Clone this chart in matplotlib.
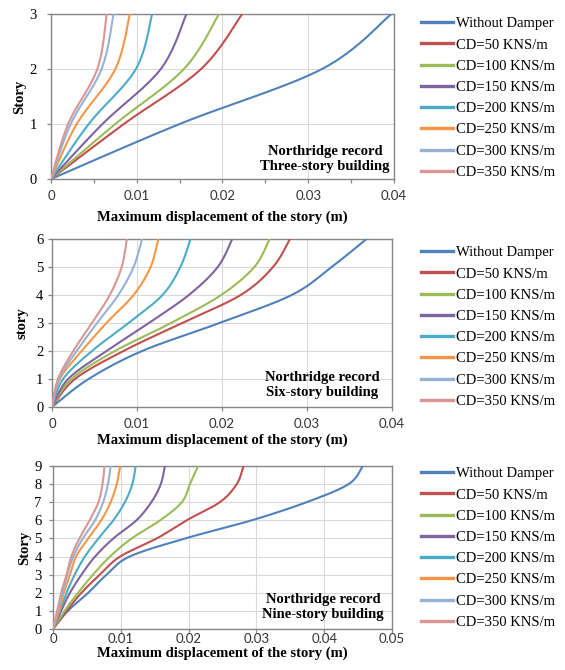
"""Story displacement profiles for three buildings (Northridge record)."""

import matplotlib

matplotlib.use("Agg")
import matplotlib.pyplot as plt  # noqa: E402
import numpy as np  # noqa: E402
from matplotlib.ticker import MultipleLocator  # noqa: E402

SERIF = ["Liberation Serif", "DejaVu Serif"]
SANS = ["Lato", "DejaVu Sans"]

labels = [
    "Without Damper",
    "CD=50 KNS/m",
    "CD=100 KNS/m",
    "CD=150 KNS/m",
    "CD=200 KNS/m",
    "CD=250 KNS/m",
    "CD=300 KNS/m",
    "CD=350 KNS/m",
]
colors = ["#4F81BD", "#C0504D", "#9BBB59", "#8064A2",
          "#4BACC6", "#F79646", "#95B3D7", "#D99694"]

# maximum displacement (m) at stories 0..n, one row per damper case
three_story = [
    [0, 0.0150, 0.0316, 0.0397],
    [0, 0.0085, 0.0175, 0.0223],
    [0, 0.0075, 0.0155, 0.0196],
    [0, 0.0060, 0.0128, 0.0158],
    [0, 0.0044, 0.0099, 0.0118],
    [0, 0.0030, 0.0075, 0.0092],
    [0, 0.0023, 0.0059, 0.0073],
    [0, 0.0020, 0.0054, 0.0065],
]
six_story = [
    [0, 0.0043, 0.0106, 0.0197, 0.0282, 0.0329, 0.0370],
    [0, 0.0027, 0.0084, 0.0153, 0.0222, 0.0260, 0.0280],
    [0, 0.0023, 0.0074, 0.0140, 0.0199, 0.0238, 0.0256],
    [0, 0.0019, 0.0064, 0.0114, 0.0161, 0.0195, 0.0212],
    [0, 0.0013, 0.0047, 0.0090, 0.0130, 0.0151, 0.0163],
    [0, 0.0009, 0.0035, 0.0064, 0.0096, 0.0116, 0.0125],
    [0, 0.0008, 0.0029, 0.0053, 0.0078, 0.0096, 0.0106],
    [0, 0.0007, 0.0025, 0.0047, 0.0068, 0.0082, 0.0088],
]
nine_story = [
    [0, 0.0022, 0.0052, 0.0079, 0.0113, 0.0195, 0.0293, 0.0374, 0.0436, 0.0457],
    [0, 0.0020, 0.0042, 0.0069, 0.0099, 0.0153, 0.0197, 0.0246, 0.0271, 0.0281],
    [0, 0.0017, 0.0037, 0.0059, 0.0084, 0.0116, 0.0158, 0.0190, 0.0202, 0.0214],
    [0, 0.0012, 0.0025, 0.0042, 0.0062, 0.0089, 0.0123, 0.0145, 0.0159, 0.0165],
    [0, 0.0010, 0.0020, 0.0032, 0.0047, 0.0067, 0.0089, 0.0106, 0.0117, 0.0122],
    [0, 0.0009, 0.0016, 0.0025, 0.0034, 0.0052, 0.0071, 0.0085, 0.0094, 0.0099],
    [0, 0.0007, 0.0014, 0.0021, 0.0030, 0.0044, 0.0062, 0.0074, 0.0081, 0.0085],
    [0, 0.0006, 0.0012, 0.0020, 0.0027, 0.0039, 0.0054, 0.0067, 0.0073, 0.0076],
]


def smooth(xs, ys, steps=24):
    """Excel-style smoothed line (Catmull-Rom through the data points)."""
    p = np.column_stack([xs, ys]).astype(float)
    p = np.vstack([p[0], p, p[-1]])
    t = np.linspace(0, 1, steps, endpoint=False)[:, None]
    out = []
    for i in range(1, len(p) - 2):
        p0, p1, p2, p3 = p[i - 1], p[i], p[i + 1], p[i + 2]
        seg = 0.5 * ((2 * p1) + (-p0 + p2) * t
                     + (2 * p0 - 5 * p1 + 4 * p2 - p3) * t ** 2
                     + (-p0 + 3 * p1 - 3 * p2 + p3) * t ** 3)
        out.append(seg)
    out.append(p[-2][None, :])
    out = np.vstack(out)
    return out[:, 0], out[:, 1]


W, H = 565, 670
fig = plt.figure(figsize=(W / 100, H / 100), dpi=100)

panels = [
    dict(data=three_story, rect=(51, 14, 394, 179), xmax=0.04, minor=0.005,
         ylabel="Story", text="Northridge record\nThree-story building",
         text_xy=(325, 159), leg_y=98, ylab_x=20, xlab_y=217,
         xpad=4.5, ypad=7),
    dict(data=six_story, rect=(52, 239, 392, 407), xmax=0.04, minor=None,
         ylabel="story", text="Northridge record\nSix-story building",
         text_xy=(322, 385), leg_y=327, ylab_x=22, xlab_y=440,
         xpad=4.5, ypad=3),
    dict(data=nine_story, rect=(53, 466, 392, 629), xmax=0.05, minor=None,
         ylabel="Story", text="Northridge record\nNine-story building",
         text_xy=(323, 607), leg_y=548, ylab_x=25, xlab_y=653,
         xpad=0, ypad=5),
]

for cfg in panels:
    x0, y0, x1, y1 = cfg["rect"]
    ax = fig.add_axes([x0 / W, 1 - y1 / H, (x1 - x0) / W, (y1 - y0) / H])
    n = len(cfg["data"][0]) - 1
    stories = np.arange(n + 1)
    lines = []
    for row, lab, col in zip(cfg["data"], labels, colors):
        sx, sy = smooth(row, stories)
        (ln,) = ax.plot(sx, sy, color=col, lw=1.5, label=lab, zorder=3)
        lines.append(ln)

    ax.set_xlim(0, cfg["xmax"])
    ax.set_ylim(0, n)
    ax.xaxis.set_major_locator(MultipleLocator(0.01))
    ax.yaxis.set_major_locator(MultipleLocator(1))
    if cfg["minor"]:
        ax.xaxis.set_minor_locator(MultipleLocator(cfg["minor"]))
    ax.xaxis.set_major_formatter(lambda v, _: "0" if v == 0 else f"{v:.2f}")
    ax.grid(True, color="#D9D9D9", lw=0.8, zorder=0)
    for s in ax.spines.values():
        s.set_color("#868686")
        s.set_linewidth(1.0)
    ax.tick_params(axis="both", which="both", direction="out", length=3.2,
                   color="#868686", width=0.9)
    ax.tick_params(axis="x", pad=cfg["xpad"], labelsize=9.5,
                   labelcolor="#333333", labelfontfamily=SANS)
    ax.tick_params(axis="y", pad=cfg["ypad"], labelsize=10.5,
                   labelfontfamily=SERIF)

    ax.set_xlabel("Maximum displacement of the story (m)", fontfamily=SERIF,
                  fontsize=10.5, fontweight="bold", va="center")
    ax.xaxis.set_label_coords(0.5, (y1 - cfg["xlab_y"]) / (y1 - y0))
    ax.set_ylabel(cfg["ylabel"], fontfamily=SERIF, fontsize=10.5,
                  fontweight="bold", va="center")
    ax.yaxis.set_label_coords((cfg["ylab_x"] - x0) / (x1 - x0), 0.5)

    tx, ty = cfg["text_xy"]
    fig.text(tx / W, 1 - ty / H, cfg["text"], ha="center", va="center",
             ma="center", fontfamily=SERIF, fontsize=10.5, fontweight="bold",
             linespacing=1.15, zorder=5)

    leg = fig.legend(handles=lines, loc="center left",
                     bbox_to_anchor=(421 / W, 1 - cfg["leg_y"] / H),
                     frameon=False, borderpad=0, borderaxespad=0,
                     handlelength=2.2, handletextpad=0.2, labelspacing=0.55,
                     prop={"family": SERIF, "size": 10.5})
    for h in leg.get_lines():
        h.set_linewidth(2.4)

fig.savefig("out.png", dpi=100)
